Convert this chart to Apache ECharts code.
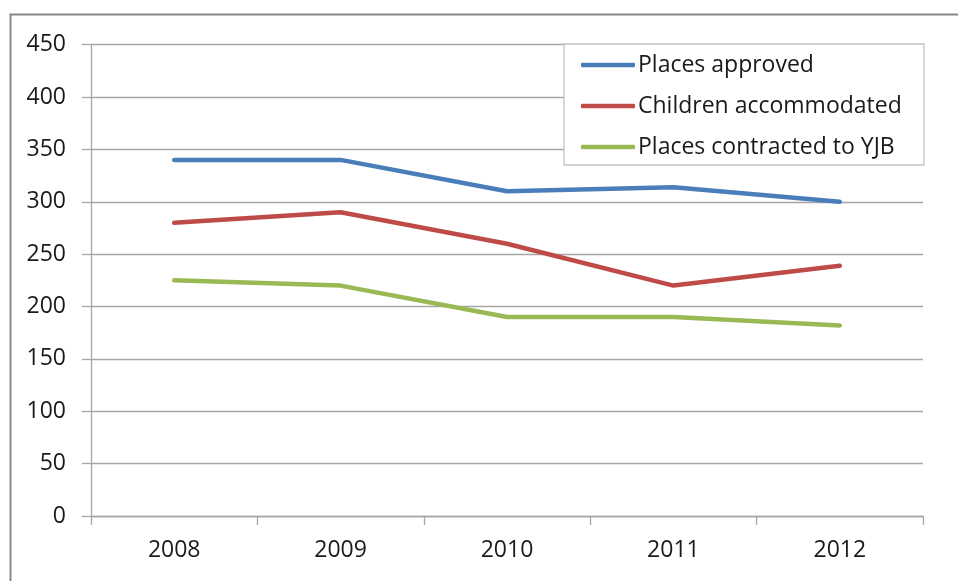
<!DOCTYPE html>
<html>
<head>
<meta charset="utf-8">
<script src="https://cdn.jsdelivr.net/npm/echarts@6/dist/echarts.min.js"></script>
<style>
html,body{margin:0;padding:0;background:#fff;}
#chart{width:958px;height:581px;}
</style>
</head>
<body>
<div id="chart"></div>
<script>
const categories = ['2008', '2009', '2010', '2011', '2012'];
const placesApproved = [340, 340, 310, 314, 300];
const childrenAccommodated = [280, 290, 260, 220, 239];
const placesContracted = [225, 220, 190, 190, 182];
const yTicks = { min: 0, max: 450, interval: 50 };

const FONT = 'Open Sans';
const chart = echarts.init(document.getElementById('chart'), null, { renderer: 'canvas' });

const mk = (name, data, color) => ({
  name, type: 'line', data, symbol: 'none', smooth: false,
  lineStyle: { color, width: 4.5, cap: 'round', join: 'round' },
  itemStyle: { color },
  emphasis: { disabled: true }
});

chart.setOption({
  animation: false,
  backgroundColor: '#ffffff',
  textStyle: { fontFamily: FONT },
  grid: { left: 91, right: 35, top: 44.7, bottom: 65, containLabel: false },
  graphic: [
    { type: 'rect', left: 8, top: 12, shape: { x: 0, y: 0, width: 1000, height: 700 },
      style: { fill: 'none', stroke: '#878787', lineWidth: 2 }, silent: true, z: 0 },
    { type: 'rect', shape: { x: 564, y: 44, width: 360, height: 121 },
      style: { fill: '#ffffff', stroke: '#c4c4c4', lineWidth: 1.3 }, silent: true, z: 5 }
  ],
  legend: {
    orient: 'vertical',
    left: 581, top: 53,
    padding: 0,
    itemWidth: 54, itemHeight: 4.5,
    itemGap: 17,
    icon: 'roundRect',
    z: 10,
    textStyle: { fontFamily: FONT, fontSize: 23, color: '#1a1a1a', lineHeight: 24, padding: [0, 0, 0, -2] },
    data: ['Places approved', 'Children accommodated', 'Places contracted to YJB']
  },
  xAxis: {
    type: 'category',
    data: categories,
    boundaryGap: true,
    axisLine: { show: true, lineStyle: { color: '#a6a6a6', width: 1.3 } },
    axisTick: { show: true, length: 9, lineStyle: { color: '#a6a6a6', width: 1.3 } },
    axisLabel: { margin: 23, fontFamily: FONT, fontSize: 23, color: '#1a1a1a' },
    splitLine: { show: false }
  },
  yAxis: {
    type: 'value',
    min: yTicks.min, max: yTicks.max, interval: yTicks.interval,
    axisLine: { show: true, lineStyle: { color: '#a6a6a6', width: 1.3 } },
    axisTick: { show: true, length: 9, lineStyle: { color: '#a6a6a6', width: 1.3 } },
    axisLabel: { margin: 25, fontFamily: FONT, fontSize: 23, color: '#1a1a1a' },
    splitLine: { show: true, lineStyle: { color: '#a6a6a6', width: 1.3 } }
  },
  series: [
    mk('Places approved', placesApproved, '#4a7ebb'),
    mk('Children accommodated', childrenAccommodated, '#be4b48'),
    mk('Places contracted to YJB', placesContracted, '#98b954')
  ]
});
</script>
</body>
</html>
